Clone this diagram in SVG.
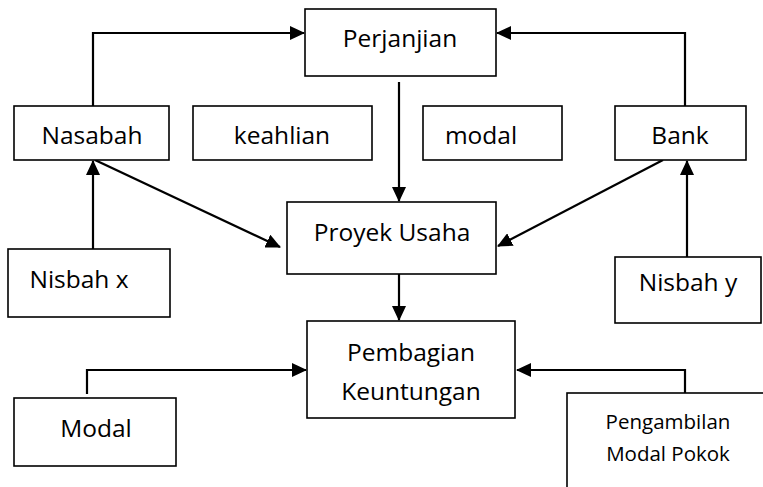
<svg xmlns="http://www.w3.org/2000/svg" width="763" height="487" viewBox="0 0 763 487">
<style>
.box{fill:#fff;stroke:#000;stroke-width:1.6}
.t{font-family:"Open Sans","Noto Sans",sans-serif;font-size:24.5px;fill:#000}
.s{font-size:20.5px}
.c{fill:none;stroke:#000;stroke-width:2.2}
</style>
<defs>
<marker id="ah" markerWidth="15" markerHeight="14" refX="14" refY="7" orient="auto" markerUnits="userSpaceOnUse">
<path d="M0,0 L15,7 L0,14 z" fill="#000"/>
</marker>
</defs>
<rect width="763" height="487" fill="#fff"/>
<g id="connectors">
<path class="c" d="M93,106 V33 H304" marker-end="url(#ah)"/>
<path class="c" d="M685,106 V33 H497" marker-end="url(#ah)"/>
<path class="c" d="M399,82 V201" marker-end="url(#ah)"/>
<path class="c" d="M95,160 L280,247" marker-end="url(#ah)"/>
<path class="c" d="M93,249 V161" marker-end="url(#ah)"/>
<path class="c" d="M663,160 L498,246" marker-end="url(#ah)"/>
<path class="c" d="M687,257 V161" marker-end="url(#ah)"/>
<path class="c" d="M399,274 V320" marker-end="url(#ah)"/>
<path class="c" d="M87,394 V370 H306" marker-end="url(#ah)"/>
<path class="c" d="M685,393 V370 H517" marker-end="url(#ah)"/>
</g>
<g id="perjanjian"><rect class="box" x="305" y="9" width="191" height="67"/><text class="t" x="400" y="47" text-anchor="middle">Perjanjian</text></g>
<g id="nasabah"><rect class="box" x="14" y="106" width="155" height="54"/><text class="t" x="92" y="144" text-anchor="middle">Nasabah</text></g>
<g id="keahlian"><rect class="box" x="193" y="106" width="179" height="54"/><text class="t" x="282" y="144" text-anchor="middle">keahlian</text></g>
<g id="modal-top"><rect class="box" x="423" y="106" width="139" height="54"/><text class="t" x="481" y="144" text-anchor="middle">modal</text></g>
<g id="bank"><rect class="box" x="615" y="106" width="131" height="54"/><text class="t" x="680" y="144" text-anchor="middle">Bank</text></g>
<g id="proyek"><rect class="box" x="287" y="202" width="209" height="72"/><text class="t" x="392" y="241" text-anchor="middle">Proyek Usaha</text></g>
<g id="nisbah-x"><rect class="box" x="8" y="249" width="162" height="68"/><text class="t" x="79" y="288" text-anchor="middle">Nisbah x</text></g>
<g id="nisbah-y"><rect class="box" x="615" y="257" width="146" height="66"/><text class="t" x="688" y="291" text-anchor="middle">Nisbah y</text></g>
<g id="pembagian"><rect class="box" x="307" y="321" width="208" height="97"/><text class="t" x="411" y="361" text-anchor="middle">Pembagian</text><text class="t" x="411" y="400" text-anchor="middle">Keuntungan</text></g>
<g id="modal-bottom"><rect class="box" x="14" y="398" width="162" height="68"/><text class="t" x="96" y="437" text-anchor="middle">Modal</text></g>
<g id="pengambilan"><rect class="box" x="567" y="393" width="220" height="110"/><text class="t s" x="668" y="429" text-anchor="middle">Pengambilan</text><text class="t s" x="668" y="461" text-anchor="middle">Modal Pokok</text></g>
</svg>
